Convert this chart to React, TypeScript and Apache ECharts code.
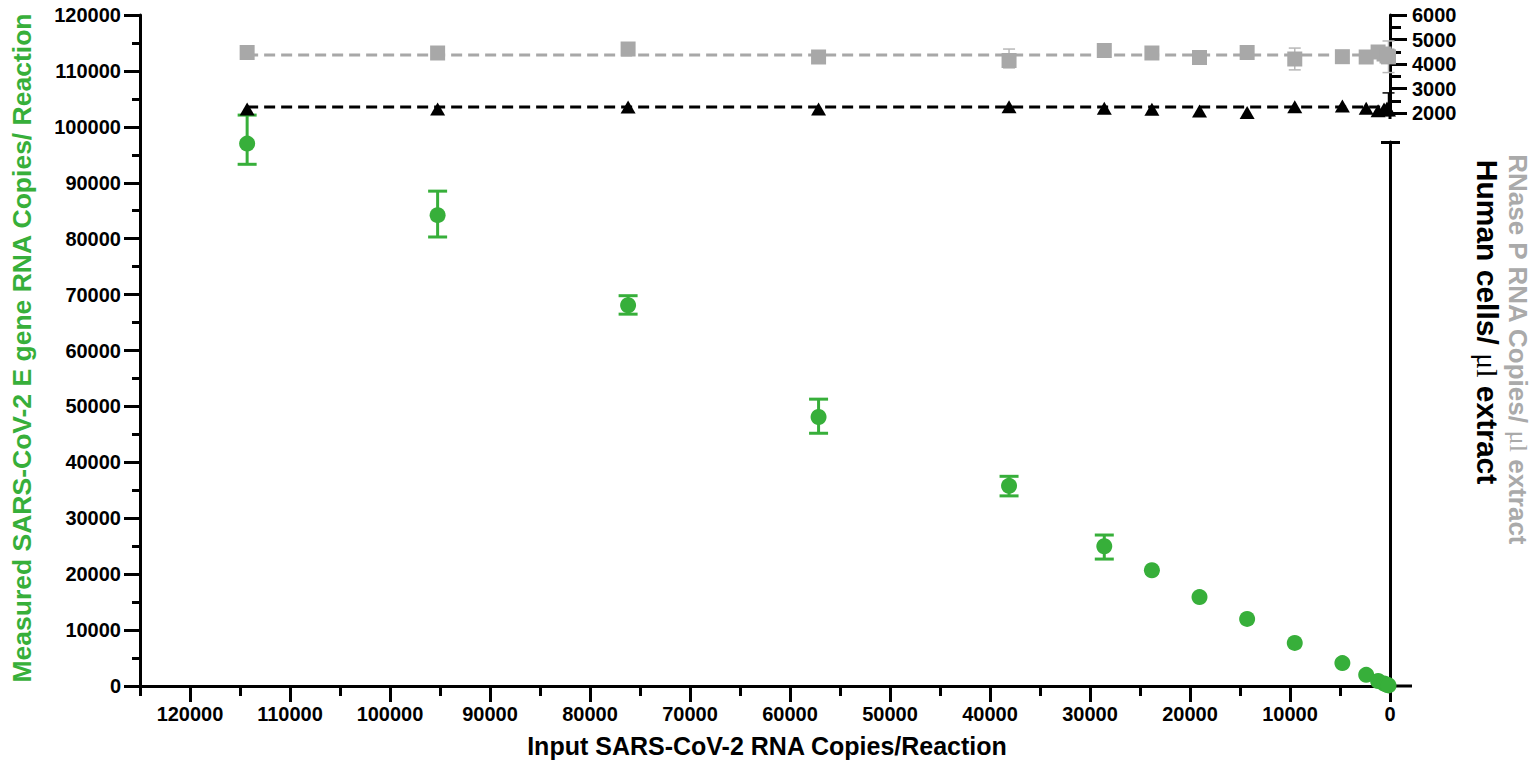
import React, { useEffect, useRef } from 'react';
import * as echarts from 'echarts';

// ---------- data ----------
const inputCopies = [114286, 95238, 76190, 57143, 38095, 28571, 23810, 19048, 14286, 9524, 4762, 2381, 1190, 595, 298, 149];
const measuredE = [97000, 84200, 68100, 48100, 35800, 25000, 20700, 15900, 12000, 7700, 4100, 2000, 900, 450, 220, 100];
const measuredELow: (number | null)[] = [93300, 80300, 66500, 45200, 34000, 22700, null, null, null, null, null, null, null, null, null, null];
const measuredEHigh: (number | null)[] = [102100, 88500, 69800, 51300, 37500, 27000, null, null, null, null, null, null, null, null, null, null];

const rnaseP = [4469, 4449, 4612, 4286, 4143, 4551, 4449, 4265, 4469, 4204, 4298, 4286, 4490, 4408, 4327, 4290];
const rnasePLow: (number | null)[] = [null, null, null, null, 3840, null, null, null, null, 3760, null, null, null, null, null, 3650];
const rnasePHigh: (number | null)[] = [null, null, null, null, 4610, null, null, null, null, 4650, null, null, null, null, null, 4940];
const rnasePMean = 4367;

const humanCells = [2163, 2163, 2245, 2163, 2257, 2192, 2151, 2082, 2020, 2257, 2286, 2192, 2090, 2163, 2204, 2122];
const humanCellsLow: (number | null)[] = [null, null, null, null, null, null, null, null, null, null, null, null, null, null, null, 1900];
const humanCellsHigh: (number | null)[] = [null, null, null, null, null, null, null, null, null, null, null, null, null, null, null, 2820];
const humanCellsMean = 2245;

const xTitle = 'Input SARS-CoV-2 RNA Copies/Reaction';
const yLeftTitle = 'Measured SARS-CoV-2 E gene RNA Copies/ Reaction';

// ---------- styles ----------
const GREEN = '#37AF3A';
const GRAY = '#A8A8A8';
const FONT = '"Liberation Sans", Arial, Helvetica, sans-serif';

const errData = (xs: number[], lo: (number | null)[], hi: (number | null)[]) =>
  xs.map((x, i) => (lo[i] != null && hi[i] != null ? [x, lo[i], hi[i]] : null)).filter((d) => d !== null);

const errRender = (color: string, width: number, cap: number) => (params: any, api: any) => {
  const x = api.value(0);
  const pLo = api.coord([x, api.value(1)]);
  const pHi = api.coord([x, api.value(2)]);
  const style = { stroke: color, lineWidth: width };
  return {
    type: 'group',
    children: [
      { type: 'line', shape: { x1: pLo[0], y1: pLo[1], x2: pHi[0], y2: pHi[1] }, style },
      { type: 'line', shape: { x1: pLo[0] - cap / 2, y1: pLo[1], x2: pLo[0] + cap / 2, y2: pLo[1] }, style },
      { type: 'line', shape: { x1: pHi[0] - cap / 2, y1: pHi[1], x2: pHi[0] + cap / 2, y2: pHi[1] }, style },
    ],
  };
};

const plain = (v: number) => String(v);
const labelStyle = { fontSize: 20, fontWeight: 'bold' as const, color: '#000', fontFamily: FONT, formatter: plain };
const lineW = { lineStyle: { color: '#000', width: 3 } };

export default function App() {
  const ref = useRef<HTMLDivElement>(null);
  useEffect(() => {
    if (!ref.current) return;
    const chart = echarts.init(ref.current, undefined, { renderer: 'svg' });
    const hiddenX = (gridIndex: number) => ({
      type: 'value', gridIndex, min: 0, max: 125000, inverse: true, show: false,
      axisLine: { show: false, onZero: false }, splitLine: { show: false },
    });
    const option: any = {
      animation: false,
      backgroundColor: '#fff',
      grid: [
        { left: 140, right: 143, top: 15, bottom: 82 },
        { left: 140, right: 143, top: 15, height: 98 },
        { left: 140, right: 143, top: 142, bottom: 82 },
      ],
      xAxis: [
        {
          type: 'value', gridIndex: 0, min: 0, max: 125000, interval: 10000, inverse: true, position: 'bottom',
          axisLine: { show: true, onZero: false, ...lineW },
          axisTick: { show: true, length: 16, lineStyle: { color: '#000', width: 3 } },
          axisLabel: { ...labelStyle, margin: 18 },
          splitLine: { show: false },
        },
        {
          type: 'value', gridIndex: 0, min: 0, max: 125000, interval: 5000, inverse: true, position: 'bottom',
          axisLine: { show: false, onZero: false },
          axisTick: { show: true, length: 10, lineStyle: { color: '#000', width: 3 } },
          axisLabel: { show: false },
          splitLine: { show: false },
        },
        hiddenX(1),
        hiddenX(2),
      ],
      yAxis: [
        {
          type: 'value', gridIndex: 0, min: 0, max: 120000, interval: 10000, position: 'left',
          axisLine: { show: true, onZero: false, ...lineW },
          axisTick: { show: true, length: 16, lineStyle: { color: '#000', width: 3 } },
          minorTick: { show: true, splitNumber: 2, length: 8, lineStyle: { color: '#000', width: 3 } },
          axisLabel: { ...labelStyle, margin: 19 },
          splitLine: { show: false }, minorSplitLine: { show: false },
        },
        {
          type: 'value', gridIndex: 1, min: 2000, max: 6000, interval: 1000, position: 'right',
          axisLine: { show: true, onZero: false, ...lineW },
          axisTick: { show: true, length: 17, lineStyle: { color: '#000', width: 3 } },
          minorTick: { show: true, splitNumber: 2, length: 11, lineStyle: { color: '#000', width: 3 } },
          axisLabel: { ...labelStyle, margin: 22 },
          splitLine: { show: false }, minorSplitLine: { show: false },
        },
        {
          type: 'value', gridIndex: 2, min: 0, max: 1, position: 'right',
          axisLine: { show: true, onZero: false, ...lineW },
          axisTick: { show: false }, axisLabel: { show: false }, splitLine: { show: false },
        },
      ],
      graphic: [
        { type: 'line', shape: { x1: 1390, y1: 112, x2: 1390, y2: 119 }, style: { stroke: '#000', lineWidth: 3 } },
        { type: 'line', shape: { x1: 1381, y1: 142.5, x2: 1400, y2: 142.5 }, style: { stroke: '#000', lineWidth: 3 } },
        { type: 'line', shape: { x1: 1389, y1: 686, x2: 1412, y2: 686 }, style: { stroke: '#000', lineWidth: 3 } },
        {
          type: 'text', x: 22, y: 348, rotation: Math.PI / 2,
          style: { text: yLeftTitle, fill: GREEN, fontSize: 26.5, fontWeight: 'bold', fontFamily: FONT, align: 'center', verticalAlign: 'middle' },
        },
        {
          type: 'text', x: 767, y: 746,
          style: { text: xTitle, fill: '#000', fontSize: 25, fontWeight: 'bold', fontFamily: FONT, align: 'center', verticalAlign: 'middle' },
        },
        {
          type: 'text', x: 1487, y: 322, rotation: -Math.PI / 2,
          style: {
            text: 'Human cells/ {s|μl} extract', fill: '#000', fontSize: 30, fontWeight: 'bold', fontFamily: FONT,
            align: 'center', verticalAlign: 'middle',
            rich: { s: { fontFamily: '"Liberation Serif", serif', fontWeight: 'normal', fontSize: 30, fill: '#000' } },
          },
        },
        {
          type: 'text', x: 1518, y: 349, rotation: -Math.PI / 2,
          style: {
            text: 'RNase P RNA Copies/ {s|μl} extract', fill: '#AAAAAA', fontSize: 26, fontWeight: 'bold', fontFamily: FONT,
            align: 'center', verticalAlign: 'middle',
            rich: { s: { fontFamily: '"Liberation Serif", serif', fontWeight: 'normal', fontSize: 26, fill: '#AAAAAA' } },
          },
        },
      ],
      series: [
        {
          type: 'custom', xAxisIndex: 0, yAxisIndex: 0, clip: false, z: 3,
          renderItem: errRender(GREEN, 3, 19),
          encode: { x: 0, y: [1, 2] },
          data: errData(inputCopies, measuredELow, measuredEHigh),
        },
        {
          type: 'scatter', xAxisIndex: 0, yAxisIndex: 0, clip: false, z: 4,
          symbol: 'circle', symbolSize: 16, itemStyle: { color: GREEN, opacity: 1 },
          data: inputCopies.map((x, i) => [x, measuredE[i]]),
        },
        {
          type: 'line', xAxisIndex: 2, yAxisIndex: 1, clip: false, z: 2, symbol: 'none',
          lineStyle: { color: GRAY, width: 3, type: [11, 6] },
          data: [[inputCopies[0], rnasePMean], [0, rnasePMean]],
        },
        {
          type: 'custom', xAxisIndex: 2, yAxisIndex: 1, clip: false, z: 3,
          renderItem: errRender('#B8B8B8', 1.5, 12),
          encode: { x: 0, y: [1, 2] },
          data: errData(inputCopies, rnasePLow, rnasePHigh),
        },
        {
          type: 'scatter', xAxisIndex: 2, yAxisIndex: 1, clip: false, z: 4,
          symbol: 'rect', symbolSize: 15, itemStyle: { color: GRAY, opacity: 1 },
          data: inputCopies.map((x, i) => [x, rnaseP[i]]),
        },
        {
          type: 'line', xAxisIndex: 2, yAxisIndex: 1, clip: false, z: 2, symbol: 'none',
          lineStyle: { color: '#000', width: 3, type: [11, 6] },
          data: [[inputCopies[0], humanCellsMean], [0, humanCellsMean]],
        },
        {
          type: 'custom', xAxisIndex: 2, yAxisIndex: 1, clip: false, z: 3,
          renderItem: errRender('#000', 1.5, 12),
          encode: { x: 0, y: [1, 2] },
          data: errData(inputCopies, humanCellsLow, humanCellsHigh),
        },
        {
          type: 'scatter', xAxisIndex: 2, yAxisIndex: 1, clip: false, z: 5,
          symbol: 'triangle', symbolSize: [15, 13], itemStyle: { color: '#000', opacity: 1 },
          data: inputCopies.map((x, i) => [x, humanCells[i]]),
        },
      ],
    };
    chart.setOption(option);
    return () => chart.dispose();
  }, []);
  return <div ref={ref} style={{ position: 'fixed', left: 0, top: 0, width: 1533, height: 768 }} />;
}
